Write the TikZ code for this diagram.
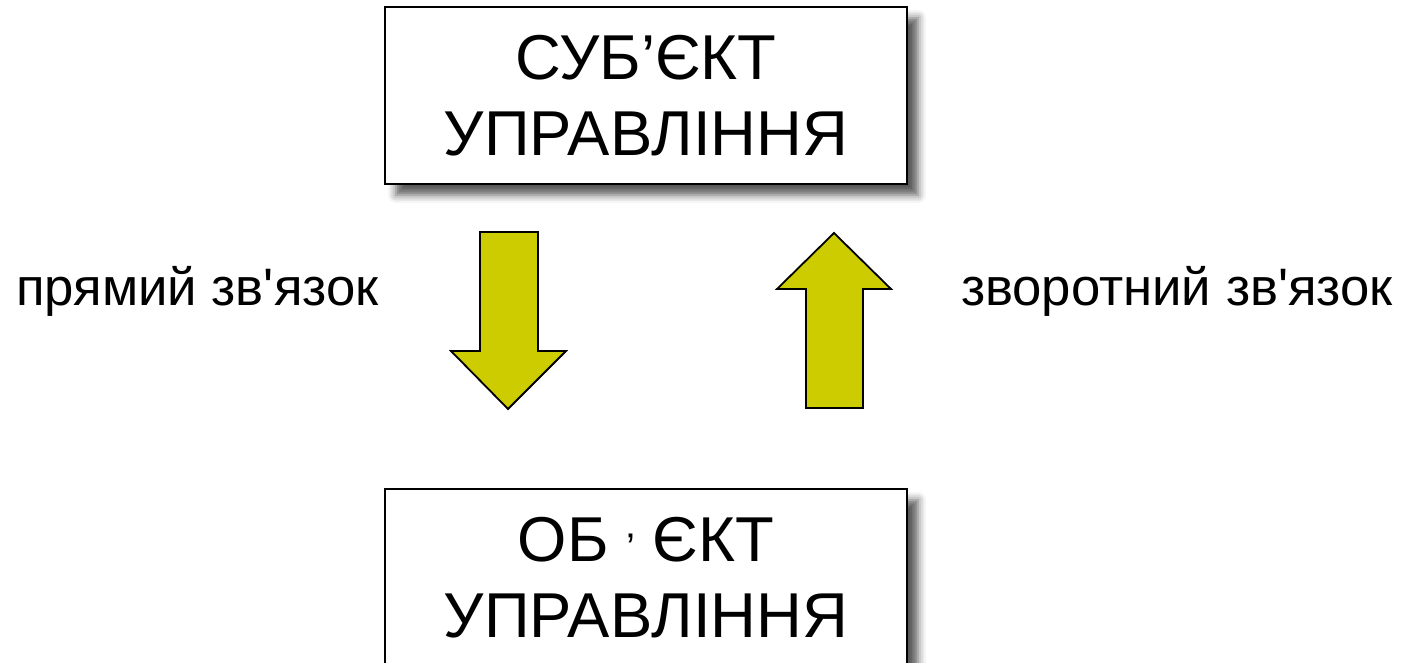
\documentclass[tikz,border=0pt]{standalone}
\usepackage{fontspec}
\setmainfont{Liberation Sans}[Ligatures=TeXOff]
\usetikzlibrary{shadows.blur}
\definecolor{arrowfill}{HTML}{CCCC00}
\tikzset{
  boxnode/.style={draw=black, line width=2pt, fill=white, minimum width=522pt, minimum height=177pt,
    inner sep=0pt, align=center, font=\fontsize{63.4}{76}\selectfont,
    blur shadow={shadow xshift=11pt, shadow yshift=-11pt, shadow blur radius=8pt, shadow opacity=65}},
  fatarrow/.style={draw=black, line width=1.8pt, fill=arrowfill, line join=miter},
  sidelabel/.style={inner sep=0pt, font=\fontsize{52.7}{62}\selectfont}
}
\begin{document}
\begin{tikzpicture}[x=1pt,y=-1pt]
\useasboundingbox (0,0) rectangle (1410,663);
\node[boxnode] (subj) at (646,95.5) {СУБ’ЄКТ\\УПРАВЛІННЯ};
\node[boxnode] (obj) at (646,577.5) {ОБ {\fontsize{40}{40}\selectfont’} ЄКТ\\УПРАВЛІННЯ};
\draw[fatarrow] (480,232) -- (538,232) -- (538,351) -- (566,351) -- (508,409) -- (451,351) -- (480,351) -- cycle;
\draw[fatarrow] (806,408) -- (863,408) -- (863,289) -- (891,289) -- (834,233) -- (777,289) -- (806,289) -- cycle;
\node[sidelabel, anchor=base west] (pryamyi) at (16,305) {прямий зв'язок};
\node[sidelabel, anchor=base east] (zvorotnyi) at (1393,305) {зворотний зв'язок};
\end{tikzpicture}
\end{document}
